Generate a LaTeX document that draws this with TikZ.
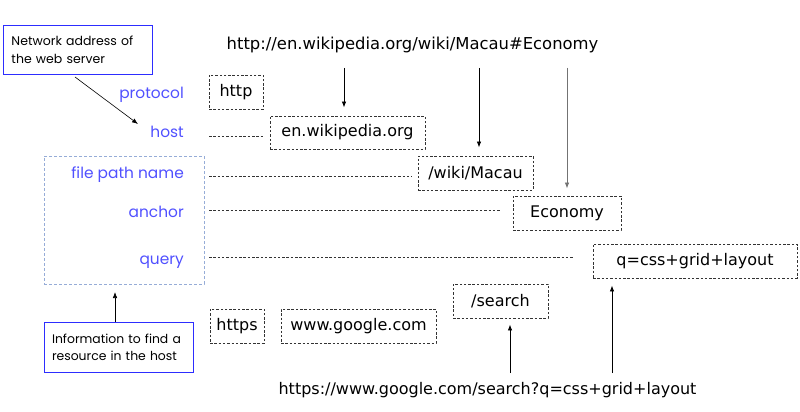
\documentclass[tikz,border=0pt]{standalone}
\usepackage{fontspec}
\setmainfont{DejaVu Sans}
\newfontfamily\lblfont{Poppins}
\usetikzlibrary{arrows.meta}
\definecolor{lblblue}{RGB}{80,80,255}
\definecolor{boxblue}{RGB}{45,45,255}
\definecolor{lightdash}{RGB}{150,172,215}
\begin{document}
\begin{tikzpicture}[x=1pt,y=-1pt,
  dbox/.style={draw=black!80, dash pattern=on 2.5pt off 1.8pt, line width=0.9pt,
    inner sep=0pt, font=\fontsize{16}{19}\selectfont},
  lbl/.style={anchor=base east, text=lblblue, inner sep=0pt, font=\lblfont\fontsize{15.4}{17}\selectfont},
  guide/.style={draw=black!80, dash pattern=on 2.5pt off 1.8pt, line width=0.8pt},
  arr/.style={-{Latex[length=6pt,width=4.5pt]}, line width=0.8pt},
  callout/.style={draw=boxblue, line width=1pt, inner sep=0pt, align=left},
  url/.style={inner sep=0pt, font=\fontsize{16.4}{19}\selectfont}
]
\useasboundingbox (0,0) rectangle (800,412);

% URLs
\node[url] (url1) at (412.5,45) {http://en.wikipedia.org/wiki/Macau\#Economy};
\node[url, font=\fontsize{16}{19}\selectfont] (url2) at (487.5,390) {https://www.google.com/search?q=css+grid+layout};

% component boxes
\node[dbox, minimum width=54pt, minimum height=34pt] (http) at (236,92) {http};
\node[dbox, minimum width=155pt, minimum height=33pt] (host) at (347.5,132.5) {en.wikipedia.org};
\node[dbox, minimum width=115pt, minimum height=34pt] (path) at (475.5,173) {/wiki/Macau};
\node[dbox, minimum width=108pt, minimum height=34pt] (anch) at (567,213) {Economy};
\node[dbox, minimum width=204pt, minimum height=34pt] (query) at (695,261) {q=css+grid+layout};
\node[dbox, minimum width=95pt, minimum height=34pt] (search) at (500.5,301) {/search};
\node[dbox, minimum width=54pt, minimum height=34pt] (https) at (237,326) {https};
\node[dbox, minimum width=155pt, minimum height=34pt] (goog) at (358.5,326) {www.google.com};

% labels
\node[lbl] (lproto) at (184,98) {protocol};
\node[lbl] (lhost) at (184,137) {host};
\node[lbl] (lpath) at (184,178) {file path name};
\node[lbl] (lanch) at (184,217) {anchor};
\node[lbl] (lquery) at (184,264) {query};

% group box
\node[draw=lightdash, dash pattern=on 3pt off 2pt, line width=0.8pt, minimum width=160pt,
  minimum height=128pt, inner sep=0pt] (group) at (124,220) {};

% guide lines
\coordinate (ghost) at (209,136);
\coordinate (gpath) at (209,176);
\coordinate (ganch) at (209,210);
\coordinate (gquery) at (209,257);
\coordinate (ganchEnd) at (500,210);
\coordinate (gqueryEnd) at (573,257);
\draw[guide] (ghost) -- ([xshift=-7pt]host.west |- ghost);
\draw[guide] (gpath) -- ([xshift=-6pt]path.west |- gpath);
\draw[guide] (ganch) -- (ganchEnd);
\draw[guide] (gquery) -- (gqueryEnd);

% callouts
\node[callout, anchor=north west, minimum width=149pt, minimum height=49pt, text width=133pt,
  inner xsep=8pt, font=\lblfont\fontsize{12.5}{19}\selectfont] (net) at (3,25) {Network address of\\[-1pt]the web server\\[2pt]};
\node[callout, anchor=north west, minimum width=149pt, minimum height=50pt, text width=134pt,
  inner xsep=7.5pt, font=\lblfont\fontsize{12.4}{17}\selectfont] (info) at (44,322) {Information to find a\\resource in the host};
\coordinate (netArrowStart) at (75,77);
\coordinate (netArrowEnd) at (138,124);
\draw[arr, line width=0.6pt] (netArrowStart) -- (netArrowEnd);
\coordinate (groupArrowEnd) at (115,292);
\draw[arr, line width=0.6pt] (info.north -| groupArrowEnd) -- (groupArrowEnd);

% arrows from URL1
\coordinate (d1) at (344,68);
\coordinate (d2) at (479,68);
\coordinate (d3) at (567,68);
\draw[arr] (d1) -- ([yshift=8pt]d1 |- host.north);
\draw[arr] (d2) -- ([yshift=8pt]d2 |- path.north);
\draw[arr, draw=black!55, fill=black!55] (d3) -- ([yshift=7pt]d3 |- anch.north);

% arrows from URL2
\coordinate (u1) at (510,373);
\coordinate (u2) at (612,373);
\draw[arr] (u1) -- ([yshift=-6pt]u1 |- search.south);
\draw[arr] (u2) -- ([yshift=-7pt]u2 |- query.south);
\end{tikzpicture}
\end{document}
